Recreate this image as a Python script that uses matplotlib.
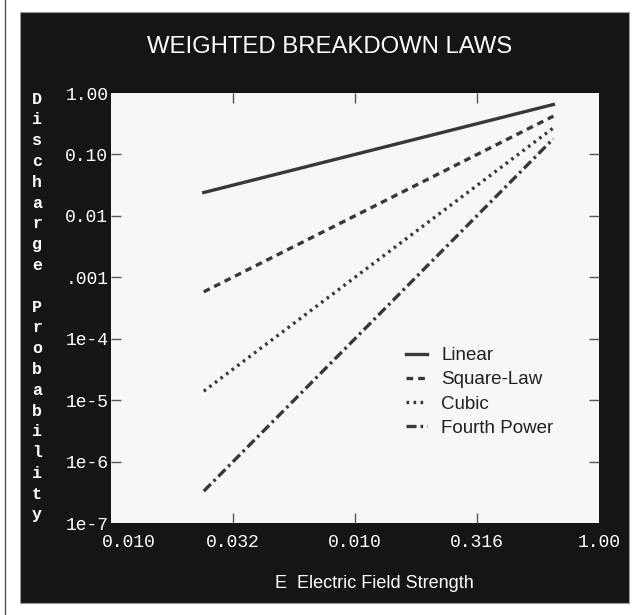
import matplotlib
matplotlib.use("Agg")
import matplotlib.pyplot as plt
from matplotlib.patches import Rectangle
from matplotlib.lines import Line2D
from matplotlib.transforms import ScaledTranslation

# ---- data ----
field = [0.024, 0.65]
linear = [0.024, 0.65]
square_law = [5.8e-4, 0.42]
cubic = [1.4e-5, 0.27]
fourth_power = [3.3e-7, 0.18]
series_names = ["Linear", "Square-Law", "Cubic", "Fourth Power"]

x_ticks = [0.01, 0.0316, 0.1, 0.316, 1.0]
x_tick_labels = ["0.010", "0.032", "0.010", "0.316", "1.00"]
y_ticks = [1.0, 0.1, 0.01, 0.001, 1e-4, 1e-5, 1e-6, 1e-7]
y_tick_labels = ["1.00", "0.10", "0.01", ".001", "1e-4", "1e-5", "1e-6", "1e-7"]

title = "WEIGHTED BREAKDOWN LAWS"
x_label = "E  Electric Field Strength"
y_label = "Discharge Probability"

W, H = 639, 615
fig = plt.figure(figsize=(W / 100, H / 100), dpi=100, facecolor="white")

def fx(px):
    return px / W

def fy(py):
    return 1 - py / H

# black panel
fig.patches.append(Rectangle((fx(20), fy(603)), fx(629) - fx(20), fy(12) - fy(603),
                             transform=fig.transFigure, facecolor="#151515",
                             edgecolor="#9a9a9a", linewidth=0.8, zorder=-5))
fig.lines.append(Line2D([fx(4.5), fx(4.5)], [0, 1], transform=fig.transFigure,
                        color="#555555", linewidth=1.0, zorder=-5))

ax = fig.add_axes([fx(111), fy(523), fx(599) - fx(111), fy(93) - fy(523)])
ax.set_zorder(2)
ax.set_facecolor("#f7f7f7")
ax.set_xscale("log")
ax.set_yscale("log")
ax.set_xlim(0.01, 1.0)
ax.set_ylim(1e-7, 1.0)

lc = "#383838"
ax.plot(field, linear, color=lc, lw=2.4, linestyle="-", label=series_names[0])
ax.plot(field, square_law, color=lc, lw=2.4, linestyle=(0, (2.0, 1.5)), label=series_names[1])
ax.plot(field, cubic, color=lc, lw=2.4, linestyle=(0, (0.8, 1.3)), label=series_names[2])
ax.plot(field, fourth_power, color=lc, lw=2.4, linestyle=(0, (3.0, 1.2, 0.8, 1.2)), label=series_names[3])

for s in ax.spines.values():
    s.set_visible(False)

ax.minorticks_off()
ax.set_xticks(x_ticks)
ax.set_xticklabels(x_tick_labels)
ax.set_yticks(y_ticks)
ax.set_yticklabels(y_tick_labels)
ax.tick_params(axis="both", which="major", direction="in", length=7, width=1.0,
               color="#555555", labelcolor="white", top=True, right=True,
               labelsize=13, pad=3)
for lab in ax.get_xticklabels() + ax.get_yticklabels():
    lab.set_family("Liberation Mono")
# hide tick marks at the axis ends
for t in ax.xaxis.get_major_ticks():
    if t.get_loc() in (x_ticks[0], x_ticks[-1]):
        t.tick1line.set_visible(False)
        t.tick2line.set_visible(False)
for t in ax.yaxis.get_major_ticks():
    if t.get_loc() in (y_ticks[0], y_ticks[-1]):
        t.tick1line.set_visible(False)
        t.tick2line.set_visible(False)
ax.tick_params(axis="x", pad=8)
ax.tick_params(axis="y", pad=2)
# first x label sits a little to the right in the original
first = ax.get_xticklabels()[0]
first.set_transform(first.get_transform() + ScaledTranslation(0.18, 0, fig.dpi_scale_trans))

leg = ax.legend(loc="upper left", bbox_to_anchor=(0.586, 0.431), frameon=False,
                handlelength=1.1, handletextpad=0.75, labelspacing=0.38, borderpad=0,
                prop={"family": "Liberation Sans", "size": 13.5})
for t in leg.get_texts():
    t.set_color("#202020")

fig.text(fx(330), fy(47), title, color="white", ha="center", va="center",
         family="Liberation Sans", fontsize=17.2)
fig.text(fx(374), fy(583), x_label, color="white", ha="center", va="center",
         family="Liberation Sans", fontsize=13)

# stacked vertical y label
step = 20.8
for i, ch in enumerate(y_label):
    if ch == " ":
        continue
    fig.text(fx(37), fy(99 + i * step), ch, color="white", ha="center", va="center",
             family="Liberation Mono", fontsize=12, fontweight="bold")

fig.savefig("out.png", dpi=100, facecolor="white")
